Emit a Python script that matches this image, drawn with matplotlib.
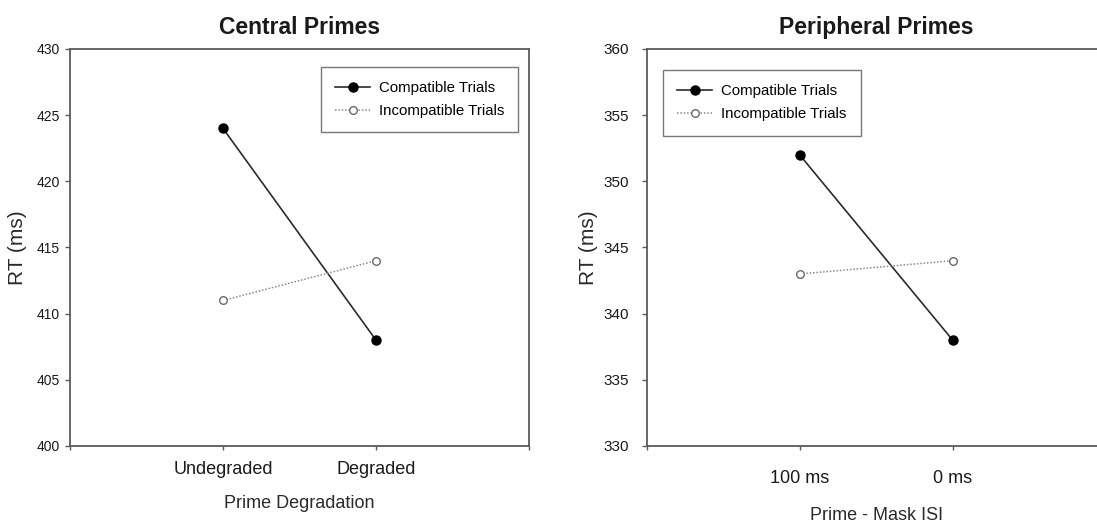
import matplotlib
matplotlib.use('Agg')
import matplotlib.pyplot as plt

plt.rcParams['font.family'] = ['Liberation Sans', 'DejaVu Sans']

# Mean reaction times per condition
central_levels = ['Undegraded', 'Degraded']
central_compatible = [424, 408]
central_incompatible = [411, 414]

peripheral_levels = ['100 ms', '0 ms']
peripheral_compatible = [352, 338]
peripheral_incompatible = [343, 344]

TEXT = '#1a1a1a'
SPINE = '#5a5a5a'

fig = plt.figure(figsize=(10.97, 5.25), dpi=100)


def draw_panel(ax, levels, comp, incomp, title, xlabel, ylim, tick_fs, lab_pad, xlab_pad, ylab_pad):
    x = [1, 2]
    ax.plot(x, comp, color='#2b2b2b', linewidth=1.2, marker='o', markersize=6.5,
            markerfacecolor='black', markeredgecolor='black', label='Compatible Trials', zorder=3)
    ax.plot(x, incomp, color='#8a8a8a', linewidth=1.1, linestyle=(0, (1, 1.2)), marker='o',
            markersize=5.5, markerfacecolor='white', markeredgecolor='#6a6a6a',
            label='Incompatible Trials', zorder=3)
    ax.set_xlim(0, 3)
    ax.set_ylim(*ylim)
    ax.set_yticks(range(ylim[0], ylim[1] + 1, 5))
    ax.set_xticks([0, 1, 2, 3])
    ax.set_xticklabels([''] + levels + [''])
    for s in ax.spines.values():
        s.set_color(SPINE)
        s.set_linewidth(1.3)
    ax.tick_params(axis='y', direction='out', length=3.5, width=1, color=SPINE,
                   labelsize=tick_fs, labelcolor=TEXT, pad=4)
    ax.tick_params(axis='x', direction='out', length=3, width=1, color=SPINE,
                   labelsize=13, labelcolor=TEXT, pad=lab_pad)
    ax.set_title(title, fontsize=16.5, fontweight='bold', color=TEXT, pad=11)
    ax.set_xlabel(xlabel, fontsize=13, color='#2a2a2a', labelpad=xlab_pad)
    ax.set_ylabel('RT (ms)', fontsize=15, color='#2a2a2a', labelpad=ylab_pad)


def add_legend(ax, anchor, loc):
    leg = ax.legend(loc=loc, bbox_to_anchor=anchor, borderaxespad=0, fontsize=10.8,
                    fancybox=False, framealpha=1, edgecolor='#777777', handlelength=2.3,
                    handletextpad=0.6, labelspacing=0.6, borderpad=0.95)
    leg.get_frame().set_linewidth(1.0)
    return leg


ax1 = fig.add_axes([0.0638, 0.1505, 0.4184, 0.7562])
draw_panel(ax1, central_levels, central_compatible, central_incompatible,
           'Central Primes', 'Prime Degradation', (400, 430), 10, 8, 12, 6.5)
add_legend(ax1, (0.977, 0.955), 'upper right')

ax2 = fig.add_axes([0.5895, 0.1505, 0.4184, 0.7562])
draw_panel(ax2, peripheral_levels, peripheral_compatible, peripheral_incompatible,
           'Peripheral Primes', 'Prime - Mask ISI', (330, 360), 11, 14, 14.5, 4)
ax2.tick_params(axis='y', pad=9)
add_legend(ax2, (0.036, 0.947), 'upper left')

fig.savefig('out.png', dpi=100)
